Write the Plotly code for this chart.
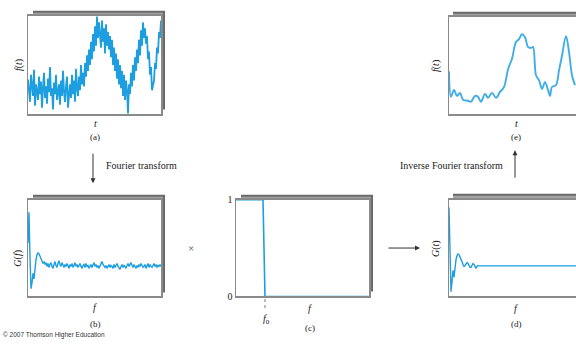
import plotly.graph_objects as go

W, H = 576, 347

# ---------------- data ----------------
# (a) noisy time signal f(t), percent of box height
fa_vals = [35, 22, 12, 40, 28, 18, 45, 8, 30, 24, 14, 38, 20, 33, 6, 26, 42, 16, 28, 10,
           36, 22, 48, 18, 26, 4, 32, 20, 40, 14, 24, 30, 9, 34, 18, 44, 22, 12, 28, 38,
           6, 24, 30, 16, 40, 20, 34, 12, 46, 26, 18, 38, 24, 50, 30, 42,
           28, 52, 38, 60, 44, 66, 50,
           74, 56, 82, 64, 90, 70, 100, 78, 94, 84,
           68, 96, 74, 88, 62, 92, 70, 84, 66, 80,
           58, 76, 50, 68, 44, 62, 36, 56, 30, 50, 26, 44, 18, 40, 14, 34, 24, 0,
           30, 20, 42, 28, 50, 34, 58, 44, 66, 52, 76, 60, 86, 70, 94, 78, 88,
           72, 80, 56, 64, 40, 48, 24, 30,
           34, 52, 46, 68, 62, 84, 78, 96]

# (b) spectrum G(f)
gb_vals = [55, 87, 40, 8, 14, 24, 18, 30, 38, 43, 45, 44, 41, 39, 36, 34, 36, 33, 35,
           31, 34, 30, 33, 35, 31, 29, 33, 36, 32, 30, 34, 37, 33, 31, 35, 32, 30, 33, 31,
           34, 32, 29, 33, 31, 34, 30, 32, 35, 31, 33, 30, 32, 34, 31, 29, 32, 33, 30, 34,
           31, 32, 29, 31, 33, 30, 32, 35, 31, 33, 30, 32, 29, 31, 34, 36, 33, 31, 30, 32,
           29, 31, 33, 30, 32, 31, 29, 33, 30, 32, 34, 31, 30, 28, 31, 33, 30, 32, 31, 29,
           32, 34, 31, 33, 35, 32, 30, 33, 31, 29, 32, 30, 33, 31, 34, 32, 30, 31, 33, 29,
           32, 34, 30, 33, 31, 30, 32, 34, 31, 33, 30, 32, 31, 33, 31]

# (c) ideal low-pass filter
hc_f = [0, 0.203, 0.218, 1.0]
hc_v = [1, 1, 0, 0]
f0 = 0.218

# (d) filtered spectrum
gd_f = list(range(31)) + [140]
gd_vals = [92, 50, 5, 15, 27, 20, 30, 38, 42, 44, 43, 41, 39, 36, 33, 31, 32, 34, 35, 34,
           32, 30, 30, 32, 34, 33, 30, 29, 31, 32, 31.6, 31.6]

# (e) smoothed time signal
te = [0, 2, 5, 8, 11, 14, 19, 22, 26, 29, 32, 36, 39, 43, 47, 51, 55, 59, 63, 67,
      70, 73, 76, 79, 82, 84, 87, 90, 93, 96, 99, 101, 103, 107, 110, 113, 117, 120, 123, 126]
fe_vals = [44, 18, 25, 19, 22, 15, 14, 13, 19, 18, 13, 21, 17, 22, 17, 23, 28, 46, 57, 74,
           77, 82, 79, 69, 68, 69, 40, 35, 26, 33, 25, 19, 28, 30, 45, 60, 80, 64, 40, 30]

# ---------------- layout helpers ----------------
def fx(px):
    return px / W

def fy(py):
    return 1 - py / H

boxes = {
    1: (28, 11, 161, 113),    # (a)
    2: (28, 201, 161, 301),   # (b)
    3: (236, 201, 369, 301),  # (c)
    4: (449, 201, 576, 301),  # (d)
    5: (449, 12, 576, 113),   # (e)
}
shadows = {
    1: (33, 6, 165, 108),
    2: (33, 196, 165, 297),
    3: (241, 196, 373, 296),
    4: (453, 195, 580, 296),
    5: (453, 7, 580, 108),
}

BLUE = "#1c9ee0"
SERIF = "Liberation Serif"
FRAME = "#8a8a8a"

fig = go.Figure()

fig.add_trace(go.Scatter(x=list(range(len(fa_vals))), y=fa_vals, mode="lines",
                         line=dict(color=BLUE, width=1.8), xaxis="x", yaxis="y"))
fig.add_trace(go.Scatter(x=list(range(len(gb_vals))), y=gb_vals, mode="lines",
                         line=dict(color=BLUE, width=1.4), xaxis="x2", yaxis="y2"))
fig.add_trace(go.Scatter(x=hc_f, y=hc_v, mode="lines",
                         line=dict(color=BLUE, width=1.6), xaxis="x3", yaxis="y3", cliponaxis=False))
fig.add_trace(go.Scatter(x=gd_f, y=gd_vals, mode="lines",
                         line=dict(color=BLUE, width=1.4), xaxis="x4", yaxis="y4"))
fig.add_trace(go.Scatter(x=te, y=fe_vals, mode="lines", line_shape="spline",
                         line=dict(color="#40ade8", width=1.9), xaxis="x5", yaxis="y5"))

xranges = {1: [0, len(fa_vals) - 1], 2: [0, len(gb_vals) - 1], 3: [0, 1], 4: [0, 127], 5: [0, 127]}
yranges = {1: [-1, 101], 2: [0, 100], 3: [0, 1], 4: [0, 100], 5: [0, 100]}

layout = dict(width=W, height=H, margin=dict(l=0, r=0, t=0, b=0),
              paper_bgcolor="white", plot_bgcolor="rgba(0,0,0,0)", showlegend=False)
shapes = []
for i, (x0, y0, x1, y1) in boxes.items():
    sx0, sy0, sx1, sy1 = shadows[i]
    # shadow: dark outer edge fading to lighter gray next to the box
    shapes.append(dict(type="rect", xref="paper", yref="paper", layer="below",
                       x0=fx(sx0), x1=fx(sx1), y0=fy(sy1), y1=fy(sy0),
                       fillcolor="#6a6a6a", line=dict(width=0)))
    shapes.append(dict(type="rect", xref="paper", yref="paper", layer="below",
                       x0=fx(sx0), x1=fx(sx1 - 2), y0=fy(sy1), y1=fy(sy0 + 2),
                       fillcolor="#a3a3a3", line=dict(width=0)))
    shapes.append(dict(type="rect", xref="paper", yref="paper", layer="below",
                       x0=fx(x0), x1=fx(x1), y0=fy(y1), y1=fy(y0),
                       fillcolor="white", line=dict(width=0)))
    sfx = "" if i == 1 else str(i)
    open_right = i in (4, 5)
    layout["xaxis" + sfx] = dict(domain=[fx(x0), fx(x1)], range=xranges[i], anchor="y" + sfx,
                                 showgrid=False, zeroline=False, showticklabels=False, ticks="",
                                 showline=True, linecolor=FRAME, linewidth=1.5, mirror=True,
                                 fixedrange=True)
    ydict = dict(domain=[fy(y1), fy(y0)], range=yranges[i], anchor="x" + sfx,
                 showgrid=False, zeroline=False, showticklabels=False, ticks="",
                 showline=True, linecolor=FRAME, linewidth=1.5, mirror=not open_right,
                 fixedrange=True)
    if i == 3:
        ydict.update(showticklabels=True, tickvals=[0, 1], ticktext=["0", "1"],
                     tickfont=dict(family=SERIF, size=10, color="#222"))
    layout["yaxis" + sfx] = ydict

# dotted f0 tick below panel (c)
shapes.append(dict(type="line", xref="x3", yref="paper", x0=f0, x1=f0,
                   y0=fy(313), y1=fy(302), line=dict(color="#777", width=1, dash="dot")))
layout["shapes"] = shapes

def txt(text, px, py, size=10, angle=0, family=SERIF, color="#222", xanchor="center"):
    return dict(text=text, x=fx(px), y=fy(py), xref="paper", yref="paper", showarrow=False,
                font=dict(family=family, size=size, color=color), textangle=angle,
                xanchor=xanchor, yanchor="middle")

ann = [
    txt("<i>f</i>(<i>t</i>)", 19, 62, angle=-90),
    txt("<i>t</i>", 95, 122),
    txt("(a)", 95, 136, size=9),
    txt("<i>G</i>(<i>f</i>)", 18, 262, angle=-90),
    txt("<i>f</i>", 95, 312),
    txt("(b)", 95, 329, size=9),
    txt("<i>f</i>", 310, 313),
    txt("(c)", 310, 334, size=9),
    txt("<i>f</i><sub>0</sub>", 266, 325),
    txt("<i>f</i>(<i>t</i>)", 436, 63, angle=-90),
    txt("<i>t</i>", 516, 122),
    txt("(e)", 516, 136, size=9),
    txt("<i>G</i>(<i>t</i>)", 436, 252, angle=-90),
    txt("<i>f</i>", 516, 313),
    txt("(d)", 516, 329, size=9),
    txt("×", 191, 251, size=11, color="#555"),
    txt("Fourier transform", 104, 166, size=10, xanchor="left"),
    txt("Inverse Fourier transform", 505, 166, size=10, xanchor="right"),
    txt("© 2007 Thomson Higher Education", 1, 341, size=6.5, family="Liberation Sans",
        color="#333", xanchor="left"),
]
arrow_common = dict(xref="paper", yref="paper", text="", showarrow=True, arrowhead=2,
                    arrowsize=1, arrowwidth=1, arrowcolor="#333", axref="pixel", ayref="pixel")
ann.append(dict(x=fx(93), y=fy(184), ax=0, ay=-31, **arrow_common))
ann.append(dict(x=fx(515), y=fy(150), ax=0, ay=29, **arrow_common))
ann.append(dict(x=fx(420), y=fy(251), ax=-33, ay=0, **arrow_common))
layout["annotations"] = ann

fig.update_layout(**layout)

css_fix = (
    "var h=document.documentElement,b=document.body;"
    "[h,b].forEach(function(e){e.style.margin='0';e.style.padding='0';"
    "e.style.overflow='hidden';e.style.height='347px';});"
)
fig.write_html("out.html", config={"displayModeBar": False, "staticPlot": True},
               post_script=css_fix)
